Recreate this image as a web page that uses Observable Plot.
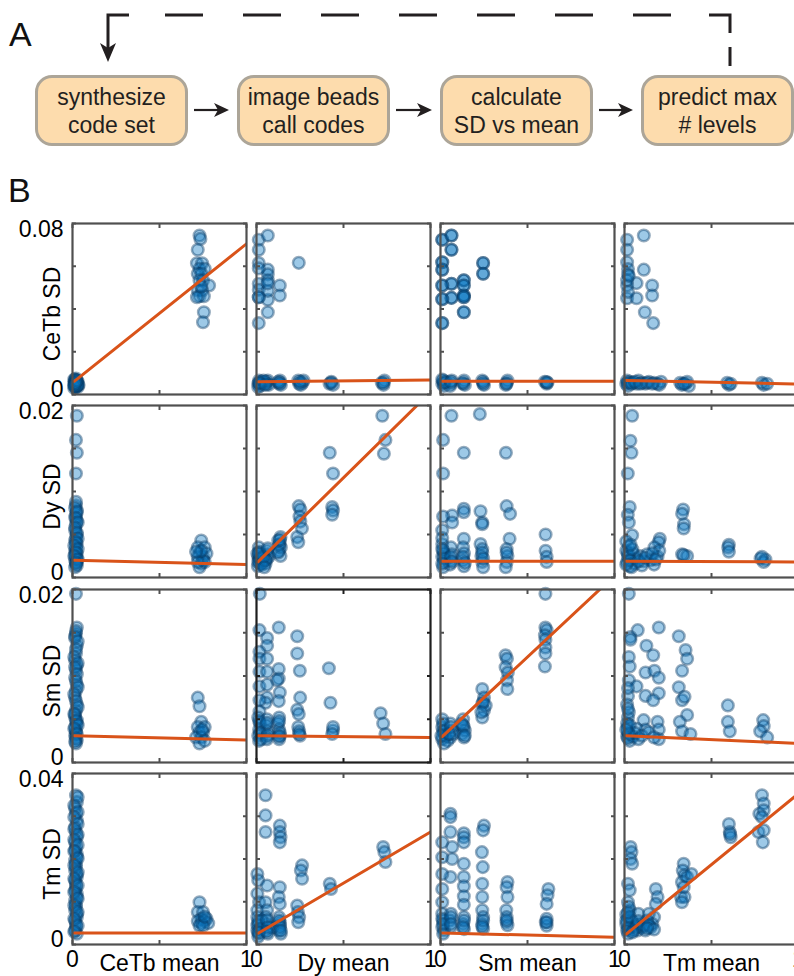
<!DOCTYPE html>
<html>
<head>
<meta charset="utf-8">
<script src="https://cdn.jsdelivr.net/npm/d3@7"></script>
<script src="https://cdn.jsdelivr.net/npm/@observablehq/plot@0.6"></script>
<style>
html,body{margin:0;padding:0;background:#fff;overflow:hidden;}
#fig{position:relative;width:794px;height:976px;overflow:hidden;font-family:"Liberation Sans",Arial,Helvetica,sans-serif;color:#000;}
.letter{position:absolute;font-size:34px;line-height:34px;color:#111;}
.step{position:absolute;top:75px;width:153px;height:71px;box-sizing:border-box;border:3px solid #aca598;border-radius:17px;background:#fddcad;display:flex;align-items:center;justify-content:center;text-align:center;font-size:23px;line-height:28px;white-space:pre-line;color:#231f20;}
.panel{position:absolute;}
</style>
</head>
<body>
<div id="fig">
  <div class="letter" style="left:9px;top:17px">A</div>
  <div class="letter" style="left:8px;top:173px">B</div>
  <svg id="flow" width="794" height="160" style="position:absolute;left:0;top:0;overflow:visible">
    <path d="M165,15 L671,15" fill="none" stroke="#231f20" stroke-width="3" stroke-dasharray="38 40"/>
    <path d="M709,15 L730,15 L730,33 M730,47 L730,66" fill="none" stroke="#231f20" stroke-width="3"/>
    <path d="M129,15 L108,15 L108,48" fill="none" stroke="#231f20" stroke-width="3"/>
    <path d="M108,62 L100,43 L108,48 L116,43 Z" fill="#231f20"/>
    <g id="arrows"></g>
  </svg>
</div>
<script>
// ---------- Panel A: workflow steps ----------
const steps = ["synthesize\ncode set", "image beads\ncall codes", "calculate\nSD vs mean", "predict max\n# levels"];

// ---------- Panel B: data ----------
const channels = ["CeTb", "Dy", "Sm", "Tm"];
const sdMax = [0.08, 0.02, 0.02, 0.04];
const meanTicks = [0, 0.5, 1];
const meanTickLabels = [0, 1];

// fitted lines (SD = intercept + slope * mean), rows = SD channel, cols = mean channel
const fitSlope = [
  [0.065, 0.0008, 0, -0.0017],
  [-0.0005, 0.0199, 0, -0.0001],
  [-0.0005, -0.0002, 0.0188, -0.0009],
  [0, 0.0239, -0.001, 0.0332]
];
const fitIntercept = [
  [0.0055, 0.006, 0.0062, 0.0066],
  [0.002, 0.00165, 0.0019, 0.0019],
  [0.0031, 0.0031, 0.0028, 0.0031],
  [0.0027, 0.0024, 0.0027, 0.0021]
];
const fitRange = [0.01, 1];

// Row 1: CeTb SD
const sdCeTb_meanCeTb = [
  [0.73,0.0744],[0.735,0.0728],[0.72,0.0677],[0.715,0.0614],[0.745,0.0614],[0.73,0.0588],[0.76,0.0588],[0.72,0.0565],[0.74,0.0565],[0.73,0.0533],
  [0.75,0.0533],[0.785,0.051],[0.72,0.0487],[0.745,0.0487],[0.73,0.046],[0.755,0.046],[0.715,0.0455],[0.755,0.0385],[0.75,0.0338],[0.74,0.0505],
  [0.01,0.003],[0.015,0.004],[0.02,0.005],[0.012,0.006],[0.025,0.0055],[0.018,0.0065],[0.03,0.0035],[0.022,0.0045],[0.01,0.007],[0.028,0.005],
  [0.015,0.0055],[0.02,0.0035],[0.03,0.006],[0.012,0.0045],[0.02,0.0075],[0.035,0.0045],[0.01,0.005],[0.025,0.004],[0.015,0.007],[0.03,0.0045],
  [0.02,0.006],[0.01,0.004],[0.025,0.0065],[0.018,0.0052]
];
const sdCeTb_meanDy = [
  [0.013,0.0724],[0.065,0.0744],[0.013,0.0677],[0.013,0.0615],[0.065,0.0584],[0.065,0.0562],[0.243,0.0616],[0.065,0.0534],[0.013,0.0518],[0.134,0.051],
  [0.013,0.0455],[0.065,0.0443],[0.134,0.0463],[0.065,0.0385],[0.013,0.0334],[0.013,0.049],[0.013,0.059],[0.065,0.0485],[0.013,0.0455],[0.065,0.052],
  [0.01,0.005],[0.015,0.0065],[0.02,0.004],[0.03,0.006],[0.01,0.0035],[0.045,0.0055],[0.06,0.005],[0.065,0.0065],[0.07,0.0045],[0.055,0.006],
  [0.13,0.005],[0.135,0.0065],[0.14,0.0045],[0.125,0.006],[0.24,0.0065],[0.245,0.005],[0.265,0.0055],[0.255,0.0045],[0.27,0.0065],[0.42,0.005],
  [0.43,0.006],[0.44,0.0045],[0.72,0.0055],[0.735,0.0065],[0.73,0.0045],
  [0.02,0.005],[0.04,0.0065],[0.015,0.0055],[0.05,0.0045],[0.135,0.0055],[0.25,0.006],[0.43,0.0055],[0.73,0.0055]
];
const sdCeTb_meanSm_high = [
  [0.01,0.0724],[0.063,0.0744],[0.063,0.0677],[0.01,0.0619],[0.01,0.0584],[0.245,0.0615],[0.245,0.0565],[0.134,0.0534],[0.063,0.0518],[0.01,0.051],
  [0.134,0.051],[0.134,0.0463],[0.063,0.0452],[0.01,0.0446],[0.134,0.0385],[0.01,0.0334],[0.134,0.0455]
];
const sdCeTb_meanSm_low = [
  [0.01,0.005],[0.015,0.0065],[0.02,0.004],[0.03,0.006],[0.01,0.007],[0.06,0.005],[0.065,0.0065],[0.055,0.004],[0.13,0.005],[0.135,0.0065],
  [0.14,0.0045],[0.24,0.0065],[0.245,0.005],[0.25,0.0045],[0.38,0.0055],[0.385,0.0065],[0.375,0.0045],[0.61,0.005],[0.6,0.006],[0.615,0.0055],
  [0.02,0.0055],[0.06,0.006],[0.13,0.0055],[0.245,0.0058],[0.38,0.005],[0.61,0.0058]
];
const sdCeTb_meanTm = [
  [0.015,0.0724],[0.111,0.0744],[0.015,0.0677],[0.015,0.0619],[0.02,0.0587],[0.111,0.0584],[0.02,0.0562],[0.069,0.0521],[0.159,0.051],[0.015,0.051],
  [0.159,0.0463],[0.015,0.045],[0.069,0.045],[0.117,0.0385],[0.165,0.0334],[0.015,0.0534],[0.025,0.0555],[0.02,0.048],
  [0.01,0.005],[0.015,0.0065],[0.02,0.004],[0.03,0.006],[0.05,0.0055],[0.07,0.005],[0.08,0.0065],[0.1,0.0055],[0.12,0.005],[0.14,0.006],
  [0.17,0.0055],[0.19,0.005],[0.21,0.006],[0.2,0.0045],[0.32,0.0055],[0.33,0.0045],[0.35,0.005],[0.37,0.004],[0.36,0.006],[0.6,0.0045],
  [0.59,0.0055],[0.61,0.005],[0.8,0.0045],[0.79,0.0055],[0.82,0.005],
  [0.02,0.0055],[0.04,0.005],[0.06,0.006],[0.09,0.005],[0.13,0.0055],[0.16,0.005],[0.34,0.005]
];

// Row 2: Dy SD
const sdDy_meanCeTb = [
  [0.025,0.0188],[0.02,0.016],[0.025,0.0145],[0.02,0.0121],[0.02,0.0084],[0.025,0.0078],[0.015,0.007],[0.025,0.0066],[0.02,0.0062],[0.015,0.0055],
  [0.025,0.005],[0.02,0.0047],[0.015,0.0043],[0.025,0.0039],[0.02,0.0035],[0.015,0.0031],[0.025,0.0028],[0.02,0.0024],[0.015,0.002],[0.025,0.0018],
  [0.02,0.0016],[0.015,0.0012],[0.025,0.0022],[0.02,0.0074],[0.015,0.0026],
  [0.02,0.0088],[0.015,0.0081],[0.025,0.0076],[0.02,0.0069],[0.03,0.0064],[0.015,0.0058],[0.025,0.0052],[0.03,0.0045],[0.02,0.0041],[0.01,0.0037],
  [0.03,0.0033],[0.02,0.0029],[0.01,0.0025],[0.03,0.0021],[0.02,0.0017],[0.025,0.0014],
  [0.74,0.0043],[0.72,0.0035],[0.76,0.0035],[0.73,0.0028],[0.75,0.0024],[0.72,0.0024],[0.77,0.0028],[0.74,0.0016],[0.73,0.0012],[0.75,0.002],
  [0.76,0.0018],[0.72,0.0018],[0.74,0.0031],[0.71,0.003]
];
const sdDy_meanDy = [
  [0.723,0.0188],[0.741,0.016],[0.732,0.0144],[0.421,0.0145],[0.44,0.0121],[0.435,0.0082],[0.44,0.0078],[0.435,0.0073],[0.243,0.0083],[0.252,0.0079],
  [0.247,0.0071],[0.252,0.0065],[0.261,0.0057],[0.234,0.0047],[0.24,0.0041],[0.138,0.0047],[0.134,0.0039],[0.13,0.0031],[0.138,0.0025],[0.125,0.0043],
  [0.14,0.0035],[0.061,0.0031],[0.071,0.0024],[0.052,0.0016],[0.065,0.0027],[0.058,0.0021],[0.013,0.0035],[0.01,0.0024],[0.02,0.0016],[0.013,0.002],
  [0.025,0.0026],[0.008,0.0013],[0.03,0.0021],[0.015,0.003],[0.035,0.0018],[0.005,0.0028],
  [0.01,0.0018],[0.02,0.0022],[0.03,0.0015],[0.04,0.0024],[0.05,0.002],[0.015,0.0028],[0.045,0.0012],[0.13,0.0038],[0.135,0.0044],[0.125,0.0029],
  [0.065,0.0034]
];
const sdDy_meanSm = [
  [0.063,0.0188],[0.226,0.019],[0.015,0.016],[0.134,0.0145],[0.376,0.0145],[0.015,0.0121],[0.134,0.008],[0.134,0.0076],[0.067,0.0072],[0.015,0.0071],
  [0.067,0.0064],[0.23,0.0077],[0.24,0.0064],[0.24,0.0062],[0.38,0.0083],[0.40,0.0074],[0.01,0.0055],[0.134,0.0045],[0.397,0.0045],[0.23,0.0039],
  [0.604,0.005],[0.604,0.0031],[0.61,0.0024],[0.61,0.0018],
  [0.01,0.0039],[0.015,0.0031],[0.01,0.0024],[0.02,0.0018],[0.015,0.0012],[0.06,0.0035],[0.065,0.0027],[0.06,0.002],[0.055,0.0015],[0.13,0.0035],
  [0.135,0.0028],[0.13,0.002],[0.135,0.0013],[0.24,0.0033],[0.235,0.0025],[0.24,0.0018],[0.245,0.0012],[0.38,0.0033],[0.385,0.0025],[0.38,0.0018],
  [0.375,0.0012],[0.01,0.0046],[0.02,0.0028],
  [0.01,0.0033],[0.02,0.0022],[0.06,0.0024],[0.065,0.0018],[0.13,0.0024],[0.14,0.0017],[0.24,0.0029],[0.245,0.0022],[0.38,0.0029],[0.01,0.0016]
];
const sdDy_meanTm = [
  [0.044,0.0188],[0.034,0.0159],[0.04,0.0145],[0.019,0.0121],[0.03,0.0082],[0.019,0.0073],[0.025,0.0064],[0.044,0.0049],[0.337,0.0079],[0.331,0.0074],
  [0.342,0.0062],[0.34,0.0057],[0.6,0.0038],[0.596,0.0035],[0.782,0.0022],[0.81,0.0021],[0.203,0.0045],[0.197,0.0041],[0.172,0.0035],[0.331,0.0027],
  [0.36,0.0025],
  [0.01,0.0031],[0.02,0.0024],[0.015,0.0018],[0.03,0.0013],[0.01,0.0042],[0.025,0.0036],[0.05,0.0028],[0.07,0.0022],[0.06,0.0016],[0.09,0.0025],
  [0.11,0.0019],[0.13,0.0027],[0.15,0.002],[0.17,0.0015],[0.19,0.0024],[0.2,0.0031],[0.04,0.0012],[0.1,0.0014],[0.8,0.0018],[0.79,0.0024],[0.6,0.003],
  [0.02,0.0028],[0.03,0.002],[0.045,0.0033],[0.08,0.0019],[0.12,0.0023],[0.16,0.0028],[0.18,0.0021],[0.01,0.0015],[0.035,0.0038],[0.34,0.0026]
];

// Row 3: Sm SD
const sdSm_meanCeTb = [
  [0.02,0.0195],[0.025,0.0156],[0.02,0.0149],[0.015,0.0144],[0.025,0.0135],[0.02,0.0126],[0.015,0.0118],[0.025,0.0112],[0.02,0.0107],[0.015,0.0098],
  [0.025,0.009],[0.02,0.0083],[0.015,0.0075],[0.025,0.0067],[0.02,0.006],[0.015,0.0052],[0.025,0.0045],[0.02,0.0037],[0.015,0.0031],[0.025,0.0026],
  [0.02,0.0022],[0.015,0.0041],[0.025,0.0049],[0.02,0.0034],[0.015,0.0056],
  [0.02,0.0152],[0.015,0.0146],[0.03,0.014],[0.02,0.0131],[0.01,0.0122],[0.03,0.0115],[0.015,0.011],[0.025,0.0102],[0.02,0.0094],[0.03,0.0087],
  [0.01,0.0079],[0.02,0.0071],[0.03,0.0064],[0.01,0.0056],[0.02,0.0048],[0.03,0.0043],[0.01,0.0039],[0.025,0.0033],[0.02,0.0028],[0.015,0.0024],
  [0.72,0.0075],[0.73,0.0065],[0.74,0.0047],[0.72,0.0041],[0.76,0.0041],[0.73,0.0035],[0.75,0.0035],[0.71,0.0029],[0.74,0.0029],[0.73,0.0022],
  [0.76,0.0025],[0.745,0.0038]
];
const sdSm_meanDy = [
  [0.019,0.0195],[0.017,0.0153],[0.128,0.0156],[0.234,0.0146],[0.061,0.0144],[0.061,0.0135],[0.234,0.0126],[0.249,0.0106],[0.416,0.0109],[0.017,0.0128],
  [0.017,0.012],[0.061,0.012],[0.128,0.0108],[0.128,0.0097],[0.118,0.0095],[0.017,0.0105],[0.017,0.0088],[0.061,0.0105],[0.061,0.009],[0.134,0.0081],
  [0.128,0.0071],[0.251,0.0075],[0.425,0.0069],[0.234,0.0061],[0.243,0.0056],[0.713,0.0057],[0.728,0.0045],[0.741,0.0033],[0.061,0.0075],[0.052,0.0069],
  [0.017,0.0072],[0.017,0.0059],[0.44,0.0037],
  [0.01,0.0052],[0.02,0.0045],[0.015,0.0038],[0.01,0.0031],[0.025,0.0027],[0.06,0.005],[0.055,0.0043],[0.065,0.0036],[0.06,0.003],[0.13,0.0052],
  [0.125,0.0045],[0.13,0.0038],[0.135,0.0031],[0.13,0.0027],[0.24,0.0041],[0.245,0.0036],[0.25,0.0031],[0.44,0.0041],[0.435,0.0033],
  [0.015,0.0048],[0.02,0.0034],[0.06,0.0046],[0.065,0.0032],[0.13,0.0048],[0.135,0.0034],[0.015,0.0025],[0.06,0.0027],[0.13,0.003],[0.245,0.0033]
];
const sdSm_meanSm = [
  [0.01,0.0041],[0.019,0.0033],[0.01,0.0027],[0.025,0.0037],[0.057,0.0045],[0.067,0.0037],[0.057,0.0029],[0.04,0.0025],[0.01,0.005],[0.13,0.005],
  [0.134,0.0041],[0.125,0.0033],[0.14,0.0037],[0.24,0.0085],[0.25,0.0075],[0.24,0.0068],[0.25,0.006],[0.24,0.0052],[0.26,0.0066],[0.374,0.0124],
  [0.382,0.012],[0.374,0.011],[0.387,0.0104],[0.382,0.0095],[0.384,0.0085],[0.603,0.0195],[0.603,0.0156],[0.61,0.0153],[0.6,0.0147],[0.603,0.0142],
  [0.603,0.0133],[0.603,0.0126],[0.6,0.0111],[0.015,0.0045],[0.03,0.003],[0.07,0.0033],[0.12,0.0045],[0.135,0.0029],[0.02,0.0022],
  [0.015,0.0036],[0.005,0.0031],[0.06,0.0041],[0.05,0.0033],[0.13,0.0043],[0.14,0.0031],[0.245,0.007],[0.235,0.0058]
];
const sdSm_meanTm = [
  [0.025,0.0195],[0.076,0.0153],[0.197,0.0156],[0.312,0.0146],[0.034,0.0145],[0.034,0.0142],[0.126,0.0135],[0.165,0.0124],[0.351,0.013],[0.36,0.012],
  [0.025,0.0122],[0.03,0.0111],[0.121,0.0104],[0.172,0.0106],[0.197,0.0098],[0.331,0.0106],[0.025,0.0095],[0.069,0.0088],[0.197,0.008],[0.312,0.0087],
  [0.121,0.0077],[0.165,0.0072],[0.331,0.0072],[0.345,0.0076],[0.594,0.0066],[0.36,0.0055],[0.797,0.0049],[0.594,0.0047],[0.605,0.0036],[0.8,0.0042],
  [0.78,0.0036],[0.82,0.0029],[0.02,0.0077],[0.015,0.0067],[0.02,0.0052],[0.018,0.0041],[0.015,0.003],[0.11,0.0049],[0.121,0.0038],[0.069,0.0039],
  [0.19,0.0047],[0.197,0.0038],[0.197,0.0027],[0.318,0.0047],[0.331,0.0036],[0.379,0.0033],[0.02,0.0035],[0.03,0.0025],[0.015,0.0045],[0.025,0.0058],
  [0.05,0.003],[0.08,0.0027],
  [0.02,0.0028],[0.03,0.0043],[0.06,0.0034],[0.1,0.0031],[0.14,0.0035],[0.17,0.0029],[0.025,0.0033],[0.01,0.0038],[0.02,0.0062],[0.02,0.0086]
];

// Row 4: Tm SD
const sdTm_meanCeTb = [
  [0.02,0.0349],[0.025,0.0333],[0.015,0.0318],[0.02,0.0306],[0.025,0.029],[0.015,0.0275],[0.02,0.0263],[0.025,0.0251],[0.015,0.0239],[0.02,0.0228],
  [0.025,0.0212],[0.015,0.0197],[0.02,0.0181],[0.025,0.0165],[0.015,0.015],[0.02,0.0134],[0.025,0.0119],[0.015,0.0103],[0.02,0.0087],[0.025,0.0072],
  [0.015,0.0056],[0.02,0.0041],[0.025,0.0025],[0.015,0.0033],[0.02,0.0048],[0.025,0.0064],[0.015,0.008],[0.02,0.0095],[0.025,0.011],[0.015,0.0126],
  [0.02,0.0142],[0.025,0.0158],[0.015,0.0173],[0.02,0.0189],[0.025,0.0204],[0.015,0.022],
  [0.03,0.0345],[0.01,0.0325],[0.03,0.031],[0.01,0.0298],[0.03,0.0282],[0.01,0.027],[0.03,0.0257],[0.01,0.0245],[0.03,0.0233],[0.01,0.0218],
  [0.03,0.0201],[0.01,0.0185],[0.03,0.0169],[0.01,0.0154],[0.03,0.0138],[0.01,0.0122],[0.03,0.0107],[0.01,0.0091],[0.03,0.0076],[0.01,0.006],
  [0.03,0.0044],[0.01,0.003],
  [0.73,0.0099],[0.72,0.0076],[0.75,0.0076],[0.74,0.006],[0.77,0.006],[0.72,0.0055],[0.76,0.0055],[0.74,0.005],[0.78,0.005],[0.73,0.0044],
  [0.75,0.0044],[0.76,0.0065]
];
const sdTm_meanDy = [
  [0.052,0.0349],[0.052,0.0302],[0.052,0.0263],[0.134,0.0278],[0.134,0.0263],[0.138,0.0251],[0.134,0.0239],[0.005,0.0165],[0.01,0.015],[0.005,0.0119],
  [0.015,0.0099],[0.005,0.008],[0.061,0.0138],[0.052,0.0099],[0.061,0.008],[0.134,0.0134],[0.128,0.0111],[0.134,0.0095],[0.262,0.0185],[0.255,0.0173],
  [0.262,0.0154],[0.234,0.0091],[0.238,0.0076],[0.245,0.0064],[0.421,0.0142],[0.428,0.013],[0.728,0.0228],[0.735,0.0216],[0.741,0.0193],[0.24,0.0052],
  [0.134,0.0052],
  [0.005,0.0064],[0.01,0.0048],[0.005,0.0033],[0.015,0.0025],[0.055,0.0064],[0.06,0.0048],[0.055,0.0033],[0.065,0.0025],[0.13,0.0064],[0.135,0.0045],
  [0.13,0.0033],[0.14,0.0025],[0.03,0.0056],[0.09,0.004],[0.01,0.0018],
  [0.005,0.0045],[0.01,0.0055],[0.02,0.0036],[0.06,0.0057],[0.065,0.004],[0.13,0.0056],[0.135,0.004],[0.01,0.0028],[0.06,0.003],[0.14,0.0032]
];
const sdTm_meanSm = [
  [0.057,0.0306],[0.057,0.0298],[0.057,0.0263],[0.067,0.0228],[0.067,0.02],[0.057,0.0158],[0.01,0.0239],[0.01,0.0204],[0.01,0.0165],[0.01,0.013],
  [0.01,0.0099],[0.134,0.026],[0.134,0.0251],[0.134,0.0239],[0.134,0.0189],[0.134,0.0158],[0.134,0.0136],[0.134,0.0113],[0.134,0.0093],[0.25,0.0278],
  [0.245,0.0267],[0.238,0.0216],[0.243,0.0181],[0.24,0.0142],[0.24,0.0111],[0.24,0.008],[0.385,0.0146],[0.38,0.0134],[0.385,0.0111],[0.378,0.008],
  [0.38,0.0052],[0.62,0.013],[0.615,0.0115],[0.61,0.0095],[0.605,0.0052],[0.61,0.0044],
  [0.01,0.0072],[0.015,0.0056],[0.01,0.0041],[0.02,0.0033],[0.06,0.0072],[0.055,0.0056],[0.06,0.0041],[0.135,0.0064],[0.13,0.0048],[0.135,0.0036],
  [0.245,0.0064],[0.24,0.0048],[0.245,0.0037],[0.38,0.0064],[0.385,0.0045],[0.61,0.006],[0.015,0.0025],
  [0.01,0.006],[0.015,0.0048],[0.06,0.0064],[0.06,0.0048],[0.135,0.0056],[0.13,0.0041],[0.245,0.0056],[0.24,0.0042],[0.38,0.0057],[0.61,0.0052]
];
const sdTm_meanTm = [
  [0.035,0.0228],[0.04,0.0216],[0.035,0.02],[0.044,0.0189],[0.02,0.0142],[0.03,0.0127],[0.02,0.0099],[0.03,0.008],[0.02,0.006],[0.08,0.0072],
  [0.09,0.0048],[0.075,0.0033],[0.18,0.013],[0.19,0.0111],[0.18,0.0095],[0.17,0.0064],[0.16,0.0048],[0.14,0.0072],[0.13,0.0056],[0.34,0.0189],
  [0.335,0.0173],[0.345,0.0162],[0.33,0.0146],[0.36,0.0158],[0.385,0.0165],[0.325,0.0111],[0.345,0.0111],[0.33,0.0099],[0.34,0.0134],[0.6,0.0282],
  [0.605,0.0263],[0.61,0.0251],[0.607,0.0258],[0.79,0.0349],[0.8,0.033],[0.775,0.0306],[0.8,0.0314],[0.79,0.0298],[0.77,0.0263],[0.8,0.0267],
  [0.795,0.0239],
  [0.01,0.0048],[0.015,0.0033],[0.02,0.0025],[0.03,0.004],[0.05,0.0033],[0.06,0.0045],[0.1,0.004],[0.12,0.0033],[0.15,0.004],[0.01,0.007],
  [0.025,0.0088],[0.04,0.0056],
  [0.02,0.0038],[0.01,0.0056],[0.03,0.0065],[0.02,0.0075],[0.07,0.004],[0.08,0.0055],[0.11,0.0045],[0.14,0.0045],[0.17,0.0035],[0.13,0.0038],
  [0.045,0.0028]
];

// ---------- build panel A ----------
const fig = document.getElementById("fig");
const stepLeft = [35, 237, 440, 641];
steps.forEach((s, i) => {
  const d = document.createElement("div");
  d.className = "step";
  d.style.left = stepLeft[i] + "px";
  d.textContent = s;
  fig.appendChild(d);
});
const arrowG = document.getElementById("arrows");
for (let i = 0; i < steps.length - 1; i++) {
  const x0 = stepLeft[i] + 153 + 6, x1 = stepLeft[i + 1] - 8;
  arrowG.insertAdjacentHTML("beforeend",
    `<path d="M${x0},110 L${x1 - 6},110" stroke="#231f20" stroke-width="2.2" fill="none"/>` +
    `<path d="M${x1},110 L${x1 - 15},103 L${x1 - 11},110 L${x1 - 15},117 Z" fill="#231f20"/>`);
}

// ---------- build panel B ----------
const panels = [
  [sdCeTb_meanCeTb, sdCeTb_meanDy, [...sdCeTb_meanSm_high, ...sdCeTb_meanSm_high, ...sdCeTb_meanSm_low], sdCeTb_meanTm],
  [sdDy_meanCeTb, sdDy_meanDy, sdDy_meanSm, sdDy_meanTm],
  [sdSm_meanCeTb, sdSm_meanDy, sdSm_meanSm, sdSm_meanTm],
  [sdTm_meanCeTb, sdTm_meanDy, sdTm_meanSm, sdTm_meanTm]
];
const colLeft = [72, 256, 440, 624];
const rowTop = [223, 405, 589, 773];
const rowHeight = [171, 172, 173, 171];
const panelWidth = 174;
const font = '"Liberation Sans", Arial, Helvetica, sans-serif';
const fmtSD = d => d === 0 ? "0" : d3.format(".2f")(d);

for (let r = 0; r < 4; r++) {
  for (let c = 0; c < 4; c++) {
    const ymax = sdMax[r];
    const fit = fitRange.map(x => ({x, y: fitIntercept[r][c] + fitSlope[r][c] * x}));
    const frameColor = (r === 2 && c === 1) ? "#1e1e1e" : "#505050";
    const sdTicks = d3.range(5).map(i => i * ymax / 4);
    const marks = [
      Plot.dot(panels[r][c], {x: d => d[0], y: d => d[1], r: 5.8, fill: "#0a78c2", fillOpacity: 0.4,
        stroke: "#063a64", strokeOpacity: 0.42, strokeWidth: 2.5}),
      Plot.line(fit, {x: "x", y: "y", stroke: "#d95319", strokeWidth: 3, clip: true}),
      Plot.frame({stroke: frameColor, strokeWidth: 2.2}),
      Plot.axisX({anchor: "bottom", ticks: meanTicks, tickSize: -4, tickFormat: () => "", label: null, stroke: frameColor, strokeWidth: 2}),
      Plot.axisX({anchor: "top", ticks: meanTicks, tickSize: -4, tickFormat: () => "", label: null, stroke: frameColor, strokeWidth: 2}),
      Plot.axisY({anchor: "left", ticks: sdTicks, tickSize: -4, tickFormat: () => "", label: null, stroke: frameColor, strokeWidth: 2}),
      Plot.axisY({anchor: "right", ticks: sdTicks, tickSize: -4, tickFormat: () => "", label: null, stroke: frameColor, strokeWidth: 2})
    ];
    if (c === 0) {
      marks.push(
        Plot.axisY({anchor: "left", ticks: [ymax], tickSize: 0, tickPadding: 9, tickFormat: fmtSD, label: null, dy: 6, fontSize: 23, fill: "#000"}),
        Plot.axisY({anchor: "left", ticks: [0], tickSize: 0, tickPadding: 9, tickFormat: fmtSD, label: null, dy: -5, fontSize: 23, fill: "#000"}),
        Plot.text([channels[r] + " SD"], {frameAnchor: "left", textAnchor: "middle", lineAnchor: "middle", rotate: -90, dx: -20, dy: 5,
          text: d => d, fontSize: 23, fill: "#000"})
      );
    }
    if (r === 3) {
      marks.push(
        Plot.axisX({anchor: "bottom", ticks: meanTickLabels, tickSize: 0, tickPadding: 6, tickFormat: d => String(d), label: null, fontSize: 23, fill: "#000"}),
        Plot.text([channels[c] + " mean"], {frameAnchor: "bottom", lineAnchor: "top", dy: 10, text: d => d, fontSize: 23, fill: "#000"})
      );
    }
    const svg = Plot.plot({
      width: panelWidth, height: rowHeight[r],
      marginTop: 0, marginRight: 0, marginBottom: 0, marginLeft: 0,
      x: {domain: [0, 1]},
      y: {domain: [0, ymax]},
      style: {background: "transparent", overflow: "visible", fontFamily: font, fontSize: "23px", color: "#000"},
      marks
    });
    const holder = document.createElement("div");
    holder.className = "panel";
    holder.style.left = colLeft[c] + "px";
    holder.style.top = rowTop[r] + "px";
    holder.style.width = panelWidth + "px";
    holder.style.height = rowHeight[r] + "px";
    holder.appendChild(svg);
    fig.appendChild(holder);
  }
}
</script>
</body>
</html>
